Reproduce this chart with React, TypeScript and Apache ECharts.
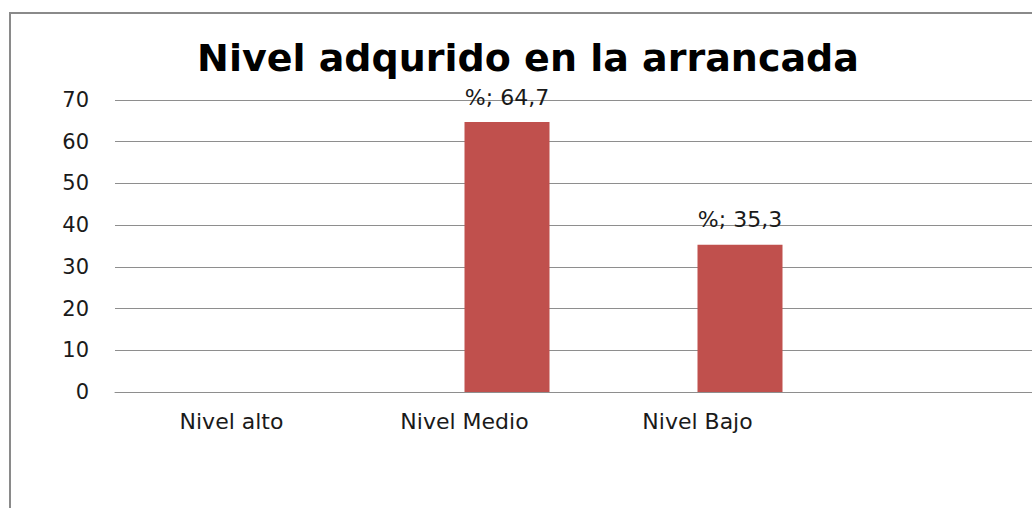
import React, { useEffect, useRef } from "react";
import * as echarts from "echarts";

const titleText = "Nivel adqurido en la arrancada";
const categories = ["Nivel alto", "Nivel Medio", "Nivel Bajo", ""];
const seriesName = "%";
const percentValues: (number | null)[] = [null, 64.7, 35.3, null];
const emptySeriesValues: (number | null)[] = [null, null, null, null];
const yTicks = { min: 0, max: 70, interval: 10 };

const FONT = "'DejaVu Sans', 'Open Sans', sans-serif";

export default function App() {
  const ref = useRef<HTMLDivElement>(null);
  useEffect(() => {
    document.body.style.margin = "0";
    if (!ref.current) return;
    const chart = echarts.init(ref.current, undefined, { renderer: "svg" });
    chart.setOption({
      animation: false,
      backgroundColor: "#ffffff",
      textStyle: { fontFamily: FONT },
      graphic: [
        {
          type: "rect",
          shape: { x: 10, y: 13, width: 1100, height: 600 },
          style: { fill: "none", stroke: "#8a8a8a", lineWidth: 2 },
          silent: true,
        },
        {
          type: "text",
          x: 528,
          y: 58,
          style: {
            text: titleText,
            fontFamily: FONT,
            fontWeight: "bold",
            fontSize: 38,
            fill: "#000000",
            textAlign: "center",
            textVerticalAlign: "middle",
          },
        },
      ],
      grid: { left: 115, top: 100, width: 932, height: 292, containLabel: false },
      xAxis: {
        type: "category",
        data: categories,
        axisLine: { show: true, lineStyle: { color: "#8e8e8e", width: 1 } },
        axisTick: { show: false },
        axisLabel: { color: "#1a1a1a", fontSize: 22, margin: 18, fontFamily: FONT },
      },
      yAxis: {
        type: "value",
        min: yTicks.min,
        max: yTicks.max,
        interval: yTicks.interval,
        axisLine: { show: false },
        axisTick: { show: false },
        axisLabel: { color: "#1a1a1a", fontSize: 21, margin: 26, fontFamily: FONT },
        splitLine: { lineStyle: { color: "#8e8e8e", width: 1 } },
      },
      series: [
        {
          name: "Serie 1",
          type: "bar",
          data: emptySeriesValues,
          barWidth: 85,
          barGap: "0%",
          itemStyle: { color: "#4f81bd" },
        },
        {
          name: seriesName,
          type: "bar",
          data: percentValues,
          barWidth: 85,
          barGap: "0%",
          itemStyle: { color: "#c0504d" },
          label: {
            show: true,
            position: "top",
            distance: 14,
            color: "#1a1a1a",
            fontSize: 22,
            fontFamily: FONT,
            formatter: (p: any) =>
              p.value == null ? "" : `${seriesName}; ${String(p.value).replace(".", ",")}`,
          },
        },
      ],
    });
    return () => chart.dispose();
  }, []);
  return (
    <div style={{ width: 1032, height: 508, overflow: "hidden", position: "relative" }}>
      <div ref={ref} style={{ width: 1080, height: 508 }} />
    </div>
  );
}
